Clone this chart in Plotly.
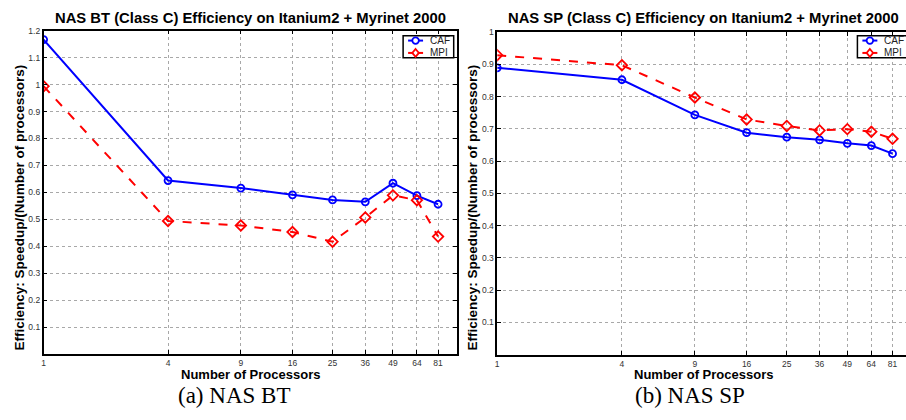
import plotly.graph_objects as go

procs = [1, 4, 9, 16, 25, 36, 49, 64, 81]
bt_caf = [1.167, 0.644, 0.616, 0.591, 0.572, 0.565, 0.634, 0.588, 0.556]
bt_mpi = [0.994, 0.494, 0.477, 0.453, 0.417, 0.507, 0.589, 0.571, 0.436]
sp_caf = [0.889, 0.852, 0.743, 0.688, 0.674, 0.666, 0.655, 0.648, 0.623]
sp_mpi = [0.928, 0.897, 0.797, 0.729, 0.709, 0.695, 0.699, 0.691, 0.669]
x_ticks = [1, 4, 9, 16, 25, 36, 49, 64, 81]
x_ticktext = ["1", "4", "9", "16", "25", "36", "49", "64", "81"]
bt_yticks = [0.1, 0.2, 0.3, 0.4, 0.5, 0.6, 0.7, 0.8, 0.9, 1.0, 1.1, 1.2]
bt_yticktext = ["0.1", "0.2", "0.3", "0.4", "0.5", "0.6", "0.7", "0.8", "0.9", "1", "1.1", "1.2"]
sp_yticks = [0.1, 0.2, 0.3, 0.4, 0.5, 0.6, 0.7, 0.8, 0.9, 1.0]
sp_yticktext = ["0.1", "0.2", "0.3", "0.4", "0.5", "0.6", "0.7", "0.8", "0.9", "1"]
series_names = ["CAF", "MPI"]
titles = ["NAS BT (Class C) Efficiency on Itanium2 + Myrinet 2000",
          "NAS SP (Class C) Efficiency on Itanium2 + Myrinet 2000"]
captions = ["(a) NAS BT", "(b) NAS SP"]
ytitle = "Efficiency: Speedup/(Number of processors)"
xtitle = "Number of Processors"

W, H = 906, 420
BLUE = "#0000ff"
RED = "#ff0000"
FONT = "Liberation Sans, Arial, sans-serif"

fig = go.Figure()

def add_series(x, y, name, color, dash, symbol, size, xa, ya):
    fig.add_trace(go.Scatter(
        x=x, y=y, name=name, mode="lines+markers",
        line=dict(color=color, width=2, dash=dash),
        marker=dict(symbol=symbol, size=size, color=color, line=dict(color=color, width=1.8)),
        xaxis=xa, yaxis=ya, showlegend=False))

add_series(procs, bt_caf, series_names[0], BLUE, "solid", "circle-open", 7, "x", "y")
add_series(procs, bt_mpi, series_names[1], RED, "dash", "diamond-open", 8, "x", "y")
add_series(procs, sp_caf, series_names[0], BLUE, "solid", "circle-open", 7, "x2", "y2")
add_series(procs, sp_mpi, series_names[1], RED, "dash", "diamond-open", 8, "x2", "y2")

def px_x(p):
    return p / W

def px_y(p):
    return 1 - p / H

common_x = dict(type="log", tickvals=x_ticks, ticktext=x_ticktext, ticks="inside", ticklen=4,
                tickcolor="black", tickwidth=1, showline=True, linecolor="black", linewidth=1.5,
                showgrid=True, gridcolor="#a8a8a8", griddash="dot", gridwidth=1,
                tickfont=dict(family=FONT, size=8.5, color="#333333"), zeroline=False)
common_y = dict(ticks="inside", ticklen=4, tickcolor="black", tickwidth=1, showline=True,
                linecolor="black", linewidth=1.5, showgrid=True, gridcolor="#a8a8a8",
                griddash="dot", gridwidth=1, tickfont=dict(family=FONT, size=8.5, color="#333333"),
                zeroline=False)

fig.update_layout(
    width=W, height=H, autosize=False,
    margin=dict(l=0, r=0, t=0, b=0),
    paper_bgcolor="white", plot_bgcolor="white",
    font=dict(family=FONT, color="black"),
    showlegend=False,
    xaxis=dict(common_x, domain=[px_x(41.7), px_x(456)], range=[0, 2], mirror="ticks", anchor="y"),
    yaxis=dict(common_y, domain=[px_y(353.3), px_y(26)], range=[0, 1.2], tickvals=bt_yticks,
               ticktext=bt_yticktext, mirror="ticks", anchor="x"),
    xaxis2=dict(common_x, domain=[px_x(496.3), 1], range=[0, 1.9735], mirror="ticks", anchor="y2"),
    yaxis2=dict(common_y, domain=[px_y(354), px_y(27.3)], range=[0, 1.0], tickvals=sp_yticks,
                ticktext=sp_yticktext, mirror=False, anchor="x2"),
)

ann = []
shapes = []
for i, (cx, cap_x, yx, lx) in enumerate([(249, 233, 18, 402), (703, 690, 472, 857.3)]):
    ann.append(dict(text="<b>%s</b>" % titles[i], x=px_x(cx), y=px_y(13), xref="paper", yref="paper",
                    showarrow=False, xanchor="center", yanchor="middle",
                    font=dict(family=FONT, size=14.8, color="black")))
    ann.append(dict(text="<b>%s</b>" % xtitle, x=px_x(cx), y=px_y(374), xref="paper", yref="paper",
                    showarrow=False, xanchor="center", yanchor="middle",
                    font=dict(family=FONT, size=13, color="black")))
    ann.append(dict(text=captions[i], x=px_x(cap_x), y=px_y(395), xref="paper", yref="paper",
                    showarrow=False, xanchor="center", yanchor="middle",
                    font=dict(family="Liberation Serif, Times New Roman, serif", size=23, color="black")))
    ann.append(dict(text="<b>%s</b>" % ytitle, x=px_x(yx), y=px_y(205), xref="paper", yref="paper",
                    showarrow=False, xanchor="center", yanchor="middle", textangle=-90,
                    font=dict(family=FONT, size=13.5, color="black")))
    # legend box
    shapes.append(dict(type="rect", xref="paper", yref="paper", x0=px_x(lx), x1=px_x(lx + 50.7),
                       y0=px_y(53.3), y1=px_y(31), line=dict(color="black", width=1.5),
                       fillcolor="white", layer="above"))
    for j, (nm, col) in enumerate(zip(series_names, [BLUE, RED])):
        ly = 36 + j * 12.5
        shapes.append(dict(type="line", xref="paper", yref="paper", x0=px_x(lx + 5), x1=px_x(lx + 20),
                           y0=px_y(ly), y1=px_y(ly), line=dict(color=col, width=2),
                           layer="above"))
        mx = lx + 12.5
        if j == 0:
            shapes.append(dict(type="circle", xref="paper", yref="paper", x0=px_x(mx - 3.3),
                               x1=px_x(mx + 3.3), y0=px_y(ly + 3.3), y1=px_y(ly - 3.3),
                               line=dict(color=col, width=1.8), fillcolor="white", layer="above"))
        else:
            path = "M %f,%f L %f,%f L %f,%f L %f,%f Z" % (
                px_x(mx), px_y(ly - 4), px_x(mx + 3.3), px_y(ly), px_x(mx), px_y(ly + 4),
                px_x(mx - 3.3), px_y(ly))
            shapes.append(dict(type="path", xref="paper", yref="paper", path=path,
                               line=dict(color=col, width=1.8), fillcolor="white", layer="above"))
        ann.append(dict(text=nm, x=px_x(lx + 25), y=px_y(ly), xref="paper", yref="paper",
                        showarrow=False, xanchor="left", yanchor="middle",
                        font=dict(family=FONT, size=10, color="#222222")))
fig.update_layout(annotations=ann, shapes=shapes)

fig.write_html("out.html", config={"displayModeBar": False},
               post_script="document.body.style.margin='0px';document.body.style.overflow='hidden';")
